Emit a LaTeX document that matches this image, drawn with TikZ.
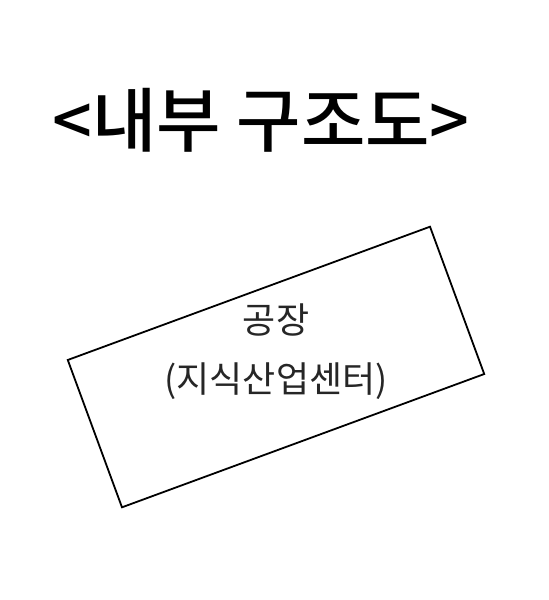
\documentclass[tikz,border=0pt]{standalone}
\usepackage{fontspec}
\newfontfamily\krfont{Noto Sans CJK KR}
\newfontfamily\krtitle{Noto Sans CJK KR Medium}
\begin{document}
\begin{tikzpicture}[x=1pt, y=-1pt, every node/.style={inner sep=0pt, outer sep=0pt}]
            \useasboundingbox[fill=white] (0,0) rectangle (549,600);
            \node[font=\krtitle\fontsize{70}{76}\selectfont] (title) at (261,120) {<내부 구조도>};
            \node[draw, line width=1.8pt, minimum width=386pt, minimum height=157pt, rotate=20.2] (factory) at (276,367) {};
            \node[font=\krfont\fontsize{36}{59}\selectfont, text=black!85, align=center] (label) at (276,352) {공장\\(지식산업센터)};
        \end{tikzpicture}
\end{document}
